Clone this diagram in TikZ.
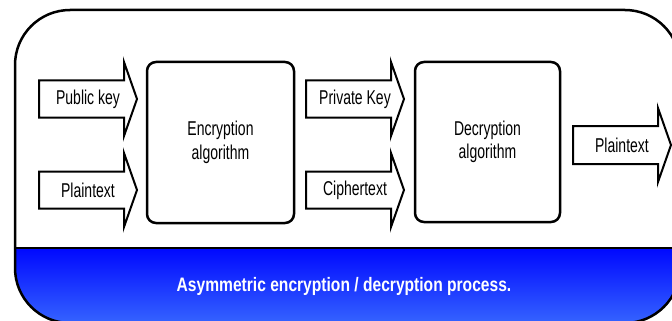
\documentclass[tikz,border=0pt]{standalone}
\usepackage{fontspec}
\setmainfont{Liberation Sans}
\newfontfamily\lblfont[FakeStretch=0.70]{Liberation Sans}
\newfontfamily\capfont[FakeStretch=0.80]{Liberation Sans Bold}
\definecolor{bluetop}{RGB}{0,8,255}
\definecolor{bluebot}{RGB}{58,108,255}
\tikzset{
  lbl/.style={font=\lblfont\fontsize{20}{23.5}\selectfont, inner sep=0pt, align=center},
  algbox/.style={draw, line width=2.5pt, fill=white, rounded corners=9pt,
    minimum width=147pt, minimum height=161pt, lbl},
  blk/.style={draw, line width=2pt, fill=white, line join=miter},
  capt/.style={font=\capfont\fontsize{19.5}{22}\selectfont, text=white, inner sep=0pt},
}
\newcommand\blockarrow[2]{%
  \draw[blk] ([shift={(-49,-#2)}]#1) -- ([shift={(36,-#2)}]#1) -- ([shift={(36,-37)}]#1)
    -- ([shift={(49,0)}]#1) -- ([shift={(36,37)}]#1) -- ([shift={(36,#2)}]#1)
    -- ([shift={(-49,#2)}]#1) -- cycle;}
\begin{document}
\begin{tikzpicture}[x=1pt,y=-1pt]
\useasboundingbox (0,0) rectangle (672,321);
\clip (0,0) rectangle (672,321);
% outer panel
\fill[white, rounded corners=55pt] (15,10) rectangle (680,323);
\begin{scope}
  \clip[rounded corners=55pt] (15,10) rectangle (680,323);
  \shade[top color=bluetop, bottom color=bluebot] (0,248) rectangle (700,330);
\end{scope}
\draw[line width=2.5pt] (15,248) -- (680,248);
\draw[line width=2.5pt, rounded corners=55pt] (15,10) rectangle (680,323);
% block arrows
\coordinate (pkc) at (88,99);
\coordinate (ptc) at (88,190);
\coordinate (prc) at (355,99);
\coordinate (ctc) at (355,190);
\coordinate (poc) at (622,145);
\blockarrow{pkc}{18.5}
\blockarrow{ptc}{18.5}
\blockarrow{prc}{18.5}
\blockarrow{ctc}{18.5}
\blockarrow{poc}{19}
\node[lbl] (pk) at (pkc) {Public key};
\node[lbl] (pt) at (ptc) {Plaintext};
\node[lbl] (pr) at (prc) {Private Key};
\node[lbl] (ct) at (ctc) {Ciphertext};
\node[lbl] (po) at (poc) {Plaintext};
% algorithm boxes
\node[algbox] (enc) at (220.5,142.5) {Encryption\\algorithm};
\node[algbox, minimum width=145pt, minimum height=160pt] (dec) at (487.5,142) {Decryption\\algorithm};
% caption
\node[capt] (cap) at (344,286) {Asymmetric encryption / decryption process.};
\end{tikzpicture}
\end{document}
